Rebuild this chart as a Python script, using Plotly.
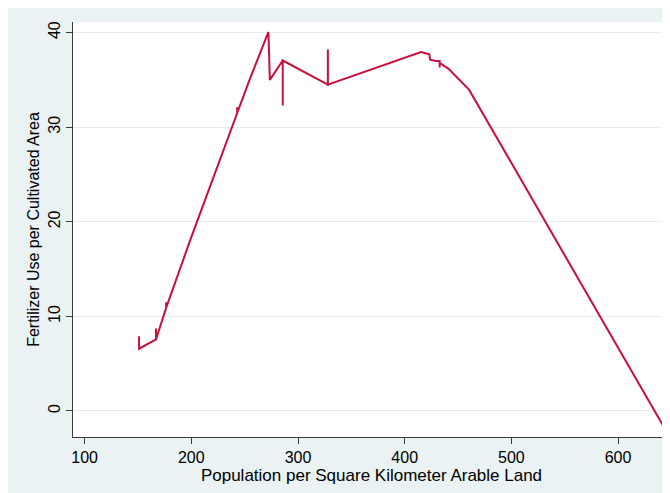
import plotly.graph_objects as go

# Population per square km arable land (x) vs fertilizer use (y), sorted by x
pop_density = [151.0, 151.0, 166.9, 166.9, 166.9, 176.4, 176.4, 176.4, 198.8,
               243.0, 243.0, 243.0, 254.4, 272.2, 272.6, 273.6, 285.7, 285.7,
               285.7, 328.0, 328.0, 328.0, 415.3, 423.1, 423.8, 429.4, 432.8,
               432.8, 432.8, 440.9, 460.3, 643.1]
fertilizer = [7.91, 6.58, 7.56, 8.72, 7.56, 10.9, 11.5, 10.9, 18.0,
              31.5, 32.1, 31.5, 34.95, 40.06, 38.9, 35.0, 37.05, 32.3,
              37.05, 34.5, 38.2, 34.5, 37.95, 37.7, 37.14, 37.0, 37.0,
              36.3, 36.8, 36.2, 33.97, -1.71]

x_ticks = [100, 200, 300, 400, 500, 600]
y_ticks = [0, 10, 20, 30, 40]

BG = "#EAF2F3"
LINE = "#C8103C"
AX = "#3A3A3A"
FONT = "Liberation Sans, Arial, sans-serif"

fig = go.Figure()
fig.add_trace(go.Scatter(x=pop_density, y=fertilizer, mode="lines",
                         line=dict(color=LINE, width=2), showlegend=False,
                         hoverinfo="x+y"))

fig.update_layout(
    width=662, height=485,
    margin=dict(l=65, r=0, t=14, b=56, autoexpand=False),
    paper_bgcolor=BG, plot_bgcolor="white",
    font=dict(family=FONT, size=16, color="black"),
)
fig.update_xaxes(
    range=[89.1, 648.7], tickvals=x_ticks, ticktext=[str(v) for v in x_ticks],
    showgrid=False, zeroline=False, showline=True, linecolor=AX, linewidth=1,
    ticks="outside", ticklen=6, tickcolor=AX, tickwidth=1,
    tickfont=dict(family=FONT, size=16, color="black"),
    title=dict(text="Population per Square Kilometer Arable Land",
               font=dict(family=FONT, size=17, color="black"), standoff=1),
)
fig.update_yaxes(
    range=[-2.75, 41.12], tickvals=y_ticks, ticktext=[str(v) for v in y_ticks],
    tickangle=-90, showgrid=True, gridcolor="#E3EDEF", gridwidth=1,
    zeroline=False, showline=True, linecolor=AX, linewidth=1,
    ticks="outside", ticklen=6, tickcolor=AX, tickwidth=1,
    tickfont=dict(family=FONT, size=16, color="black"),
    title=dict(text="Fertilizer Use per Cultivated Area",
               font=dict(family=FONT, size=16, color="black"), standoff=1),
)

fig.write_html("out.html")
